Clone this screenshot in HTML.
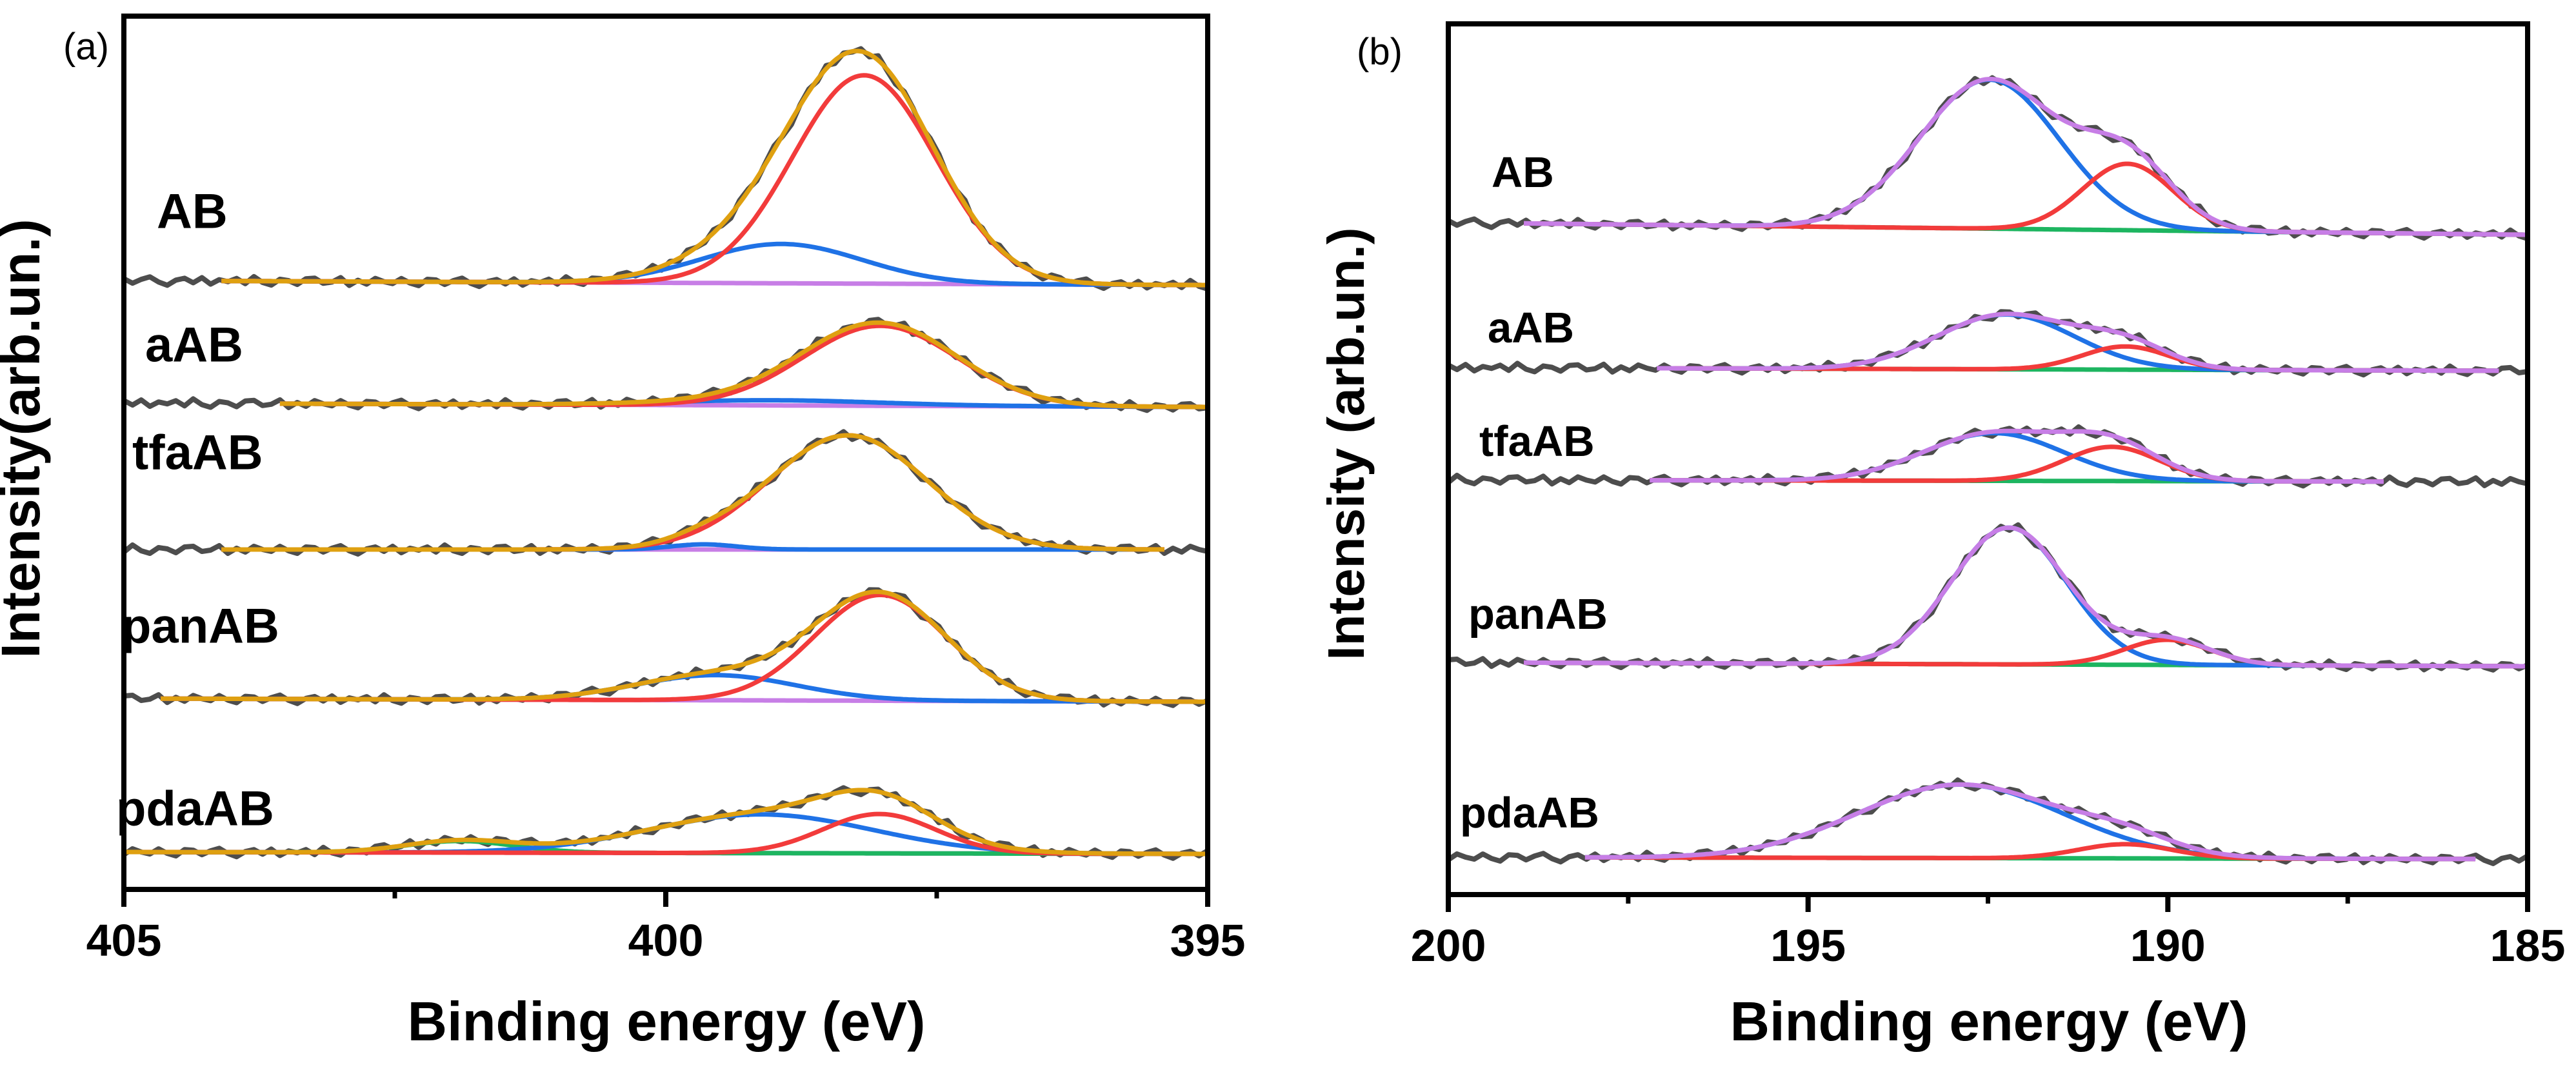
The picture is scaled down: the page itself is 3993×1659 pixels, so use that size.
<!DOCTYPE html>
<html>
<head>
<meta charset="utf-8">
<style>
html,body{margin:0;padding:0;background:#fff;}
svg{display:block;}
text{font-family:"Liberation Sans",Arial,sans-serif;}
</style>
</head>
<body>
<svg id="fig" width="3993" height="1659" viewBox="0 0 3993 1659" xmlns="http://www.w3.org/2000/svg">
  <rect x="0" y="0" width="3993" height="1659" fill="#fff"/>
  <text x="98" y="92" font-family="Liberation Serif,serif" font-size="58" fill="#000">(a)</text>
  <text x="2103" y="100" font-family="Liberation Serif,serif" font-size="58" fill="#000">(b)</text>
  <g id="panelA"></g>
  <g id="panelB"></g>
</svg>
<script>
// ---------- data: panel (a) N 1s ----------
const leftSamples = ["AB","aAB","tfaAB","panAB","pdaAB"];
const leftTicks = [405,400,395];
const leftMinorTicks = [402.5,397.5];
const leftBaseL = [944,754,527,296,58];
const leftBaseR = [937,748,527,291,55];
const leftRedC = [398.17,398.02,398.32,398.02,398.03];
const leftRedA = [323,124,177,164,61];
const leftRedS = [0.66,0.71,0.73,0.61,0.52];
const leftBlueC = [398.93,399.0,399.65,399.54,399.12];
const leftBlueA = [61,8,8,39,60];
const leftBlueS = [0.74,1.0,0.3,0.74,1.03];
const leftGreenC = [401.9,401.9,401.9,401.9,401.9];
const leftGreenA = [0,0,0,0,18];
const leftGreenS = [0.5,0.5,0.5,0.5,0.5];
const leftFitStart = [404.1,403.56,404.1,404.66,405];
const leftFitEnd = [395,395,395.4,395,395];

// ---------- data: panel (b) B 1s ----------
const rightSamples = ["AB","aAB","tfaAB","panAB","pdaAB"];
const rightTicks = [200,195,190,185];
const rightMinorTicks = [197.5,192.5,187.5];
const rightBaseL = [1042,817,643,360,58];
const rightBaseR = [1023,812,640,354,55];
const rightBlueC = [192.48,192.25,192.42,192.21,192.88];
const rightBlueA = [231,85,74,212,114];
const rightBlueS = [0.97,0.95,0.97,0.80,1.43];
const rightRedC = [190.56,190.59,190.78,190.01,190.59];
const rightRedA = [103,36,53,39,22];
const rightRedS = [0.63,0.6,0.66,0.6,0.65];
const rightFitStart = [198.95,197.1,197.2,198.95,198.1];
const rightFitEnd = [185,185.4,187,185,185.7];

// hand-typed measurement noise (px offsets)
const noise = [3,-4,2,6,-2,-7,1,4,-3,5,-5,2,-1,4,-4,7,-2,-6,3,1,-5,4,5,-3,-1,6,-6,2,-4,5,0,-3,5,-2,-6,4];

const NS = "http://www.w3.org/2000/svg";
function el(tag, attrs, parent){
  const e = document.createElementNS(NS, tag);
  for (const k in attrs) e.setAttribute(k, attrs[k]);
  parent.appendChild(e);
  return e;
}
function gauss(E,c,a,s){ return a*Math.exp(-0.5*((E-c)/s)*((E-c)/s)); }

function buildPanel(g, cfg){
  const xS = E => cfg.x0 + (cfg.e0 - E)/(cfg.e0 - cfg.e1)*(cfg.x1 - cfg.x0);
  const yS = v => cfg.yb - v;
  const n = cfg.samples.length;
  for (let i=0;i<n;i++){
    const base = E => cfg.baseL[i] + (cfg.e0 - E)/(cfg.e0 - cfg.e1)*(cfg.baseR[i]-cfg.baseL[i]);
    const comps = cfg.comps.map(c => ({c:c.C[i], a:c.A[i], s:c.S[i], color:c.color, name:c.name}));
    const total = E => base(E) + comps.reduce((t,c)=>t+gauss(E,c.c,c.a,c.s),0);
    let d = "", k=0;
    for (let E=cfg.e0; E>=cfg.e1-1e-9; E-=cfg.rawStep, k++){
      const v = total(E) + noise[(k + i*7) % noise.length];
      d += (k===0?"M":"L") + xS(E).toFixed(1) + "," + yS(v).toFixed(1);
    }
    const raw = el("path",{d:d,fill:"none",stroke:"#4d4d4d","stroke-width":8,"stroke-linejoin":"round"},g);
    
    
    const fs = cfg.fitStart[i], fe = cfg.fitEnd[i];
    function curve(fn, color, name, w){
      let p = "", j=0;
      for (let E=fs; E>=fe-1e-9; E-=cfg.step/2, j++){
        p += (j===0?"M":"L") + xS(E).toFixed(1) + "," + yS(fn(E)).toFixed(1);
      }
      const c = el("path",{d:p,fill:"none",stroke:color,"stroke-width":w},g);
      
      
    }
    curve(base, cfg.baseColor, 'background-' + cfg.samples[i], 7);
    comps.forEach(c => {
      if (c.a > 0) curve(E => base(E)+gauss(E,c.c,c.a,c.s), c.color, c.name + '-' + cfg.samples[i], 7);
    });
    curve(total, cfg.sumColor, 'envelope-' + cfg.samples[i], 7);
    const t = el("text",{x:cfg.labelX[i], y:cfg.labelY[i]+cfg.labelSize*0.36, "font-size":cfg.labelSize, "font-weight":"bold", fill:"#000"},g);
    t.textContent = cfg.samples[i];
    
    
  }
  const fr = el("rect",{x:cfg.x0,y:cfg.yt,width:cfg.x1-cfg.x0,height:cfg.yb-cfg.yt,fill:"none",stroke:"#000","stroke-width":8},g);
  
  
  cfg.ticks.forEach(tv => {
    const x = xS(tv);
    const tk = el("line",{x1:x,y1:cfg.yb,x2:x,y2:cfg.yb+27,stroke:"#000","stroke-width":8},g);
    
    
    const lb = el("text",{x:x,y:cfg.yb+103,"font-size":70,"font-weight":"bold","text-anchor":"middle",fill:"#000"},g);
    lb.textContent = tv;
    
    
  });
  cfg.minor.forEach(tv => {
    const x = xS(tv);
    const tk = el("line",{x1:x,y1:cfg.yb,x2:x,y2:cfg.yb+14,stroke:"#000","stroke-width":7},g);
    
    
  });
  const xt = el("text",{x:cfg.xTitleX,y:1613,"font-size":85,"font-weight":"bold","text-anchor":"middle",fill:"#000"},g);
  xt.textContent = "Binding energy (eV)";
  
  
  const yt = el("text",{x:0,y:0,"font-size":cfg.yTitleSize,"font-weight":"bold","text-anchor":"middle",fill:"#000",
    transform:"translate(" + (cfg.yTitleX+29) + "," + cfg.yTitleY + ") rotate(-90)"},g);
  yt.textContent = cfg.yTitle;
  
  
}

buildPanel(document.getElementById("panelA"), {
  x0:192, x1:1872, yt:25, yb:1379, e0:405, e1:395, step:0.05, rawStep:0.08,
  samples:leftSamples, baseL:leftBaseL, baseR:leftBaseR,
  comps:[
    {C:leftGreenC,A:leftGreenA,S:leftGreenS,color:"#1db560",name:"green-component"},
    {C:leftBlueC,A:leftBlueA,S:leftBlueS,color:"#1f72e6",name:"blue-component"},
    {C:leftRedC,A:leftRedA,S:leftRedS,color:"#f23b3b",name:"red-component"}
  ],
  baseColor:"#c77ee6", sumColor:"#dfa010",
  fitStart:leftFitStart, fitEnd:leftFitEnd,
  labelX:[243,225,205,188,180], labelY:[326,533,700,969,1252], labelSize:76,
  ticks:leftTicks, minor:leftMinorTicks, xTitleX:1033,
  yTitle:"Intensity(arb.un.)", yTitleX:32, yTitleY:680, yTitleSize:84
});
buildPanel(document.getElementById("panelB"), {
  x0:2245, x1:3918, yt:37, yb:1387, e0:200, e1:185, step:0.075, rawStep:0.12,
  samples:rightSamples, baseL:rightBaseL, baseR:rightBaseR,
  comps:[
    {C:rightBlueC,A:rightBlueA,S:rightBlueS,color:"#1f72e6",name:"blue-component"},
    {C:rightRedC,A:rightRedA,S:rightRedS,color:"#f23b3b",name:"red-component"}
  ],
  baseColor:"#1db560", sumColor:"#c77ee6",
  fitStart:rightFitStart, fitEnd:rightFitEnd,
  labelX:[2312,2306,2293,2276,2263], labelY:[266,507,683,951,1259], labelSize:67,
  ticks:rightTicks, minor:rightMinorTicks, xTitleX:3083,
  yTitle:"Intensity (arb.un.)", yTitleX:2085, yTitleY:688, yTitleSize:80
});
</script>
</body>
</html>
